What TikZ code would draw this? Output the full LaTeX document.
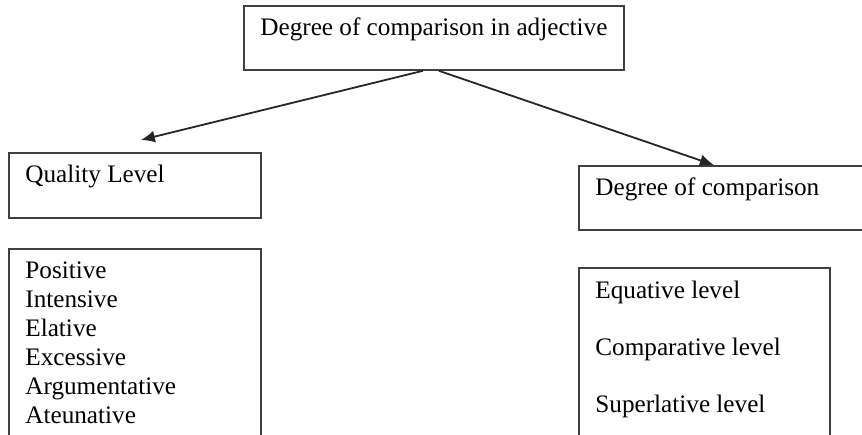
\documentclass[tikz,border=0pt]{standalone}
\usepackage{fontspec}
\setmainfont{Liberation Serif}
\usetikzlibrary{arrows.meta}

\begin{document}
\begin{tikzpicture}[x=0.5pt, y=0.5pt,
  box/.style={draw=black!75, line width=0.9pt, rectangle, inner sep=0, anchor=north west},
  lbl/.style={anchor=base west, inner sep=0, font=\fontsize{12.6}{14.5}\selectfont},
  arr/.style={-{Latex[length=7pt,width=6pt]}, line width=0.9pt, black!85}]

\useasboundingbox (0,0) rectangle (862,-434);
\clip (0,0) rectangle (862,-434);

\node[box, minimum width=190pt, minimum height=32pt] (root) at (243,-5) {};
\node[box, minimum width=126pt, minimum height=32.5pt] (qual) at (8,-152) {};
\node[box, minimum width=126pt, minimum height=106pt] (qlist) at (8,-248) {};
\node[box, minimum width=151pt, minimum height=32pt] (deg) at (578,-165) {};
\node[box, minimum width=125.5pt, minimum height=96.5pt] (dlist) at (578,-267) {};

\node[lbl] (rootlbl) at (260,-35) {Degree of comparison in adjective};
\node[lbl] (quallbl) at (25,-182) {Quality Level};
\node[lbl] (deglbl) at (595,-195) {Degree of comparison};

\node[lbl] (pos) at (25,-278) {Positive};
\node[lbl] (int) at (25,-307) {Intensive};
\node[lbl] (ela) at (25,-336) {Elative};
\node[lbl] (exc) at (25,-365) {Excessive};
\node[lbl] (arg) at (25,-394) {Argumentative};
\node[lbl] (ate) at (25,-423) {Ateunative};

\node[lbl] (equ) at (595,-298) {Equative level};
\node[lbl] (com) at (595,-355) {Comparative level};
\node[lbl] (sup) at (595,-412) {Superlative level};

\draw[arr] ([xshift=-5.5pt]root.south) to ([shift={(3pt,6pt)}]qual.north);
\draw[arr] ([xshift=2.5pt]root.south) to ([xshift=-8pt]deg.north);

\end{tikzpicture}
\end{document}
